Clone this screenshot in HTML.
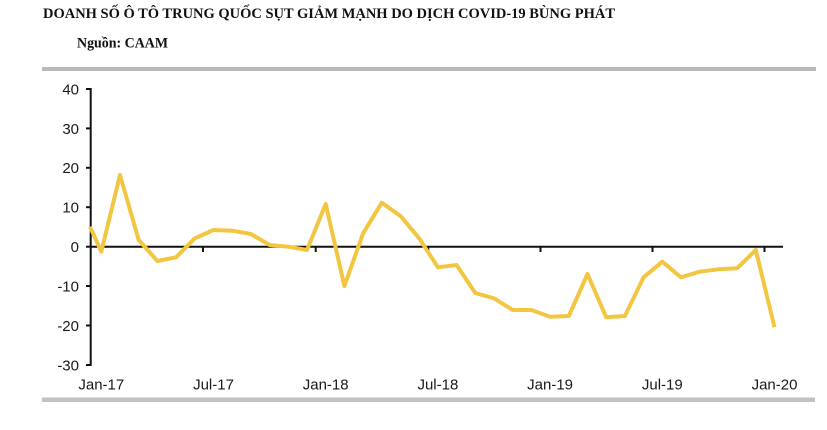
<!DOCTYPE html>
<html>
<head>
<meta charset="utf-8">
<style>
  html, body { margin: 0; padding: 0; background: #ffffff; }
  body { width: 827px; height: 430px; overflow: hidden; }
  svg { display: block; }
</style>
</head>
<body>
<svg width="827" height="430" viewBox="0 0 827 430" xmlns="http://www.w3.org/2000/svg">
  <rect x="0" y="0" width="827" height="430" fill="#ffffff"/>
  <!-- Title -->
  <text x="43" y="17.8" font-family="'Liberation Serif', serif" font-weight="bold" font-size="14.5" fill="#111" textLength="572" lengthAdjust="spacingAndGlyphs">DOANH SỐ Ô TÔ TRUNG QUỐC SỤT GIẢM MẠNH DO DỊCH COVID-19 BÙNG PHÁT</text>
  <text x="77" y="47.6" font-family="'Liberation Serif', serif" font-weight="bold" font-size="14.5" fill="#111" textLength="91" lengthAdjust="spacingAndGlyphs">Nguồn: CAAM</text>

  <!-- top and bottom gray bars -->
  <rect x="42" y="67" width="774" height="4" fill="#b9b9b9"/>
  <rect x="42" y="397.5" width="773" height="4.5" fill="#c2c2c2"/>

  <!-- Y axis -->
  <line x1="90.7" y1="88" x2="90.7" y2="366" stroke="#111" stroke-width="2"/>
  <g stroke="#111" stroke-width="2">
    <line x1="86" y1="89" x2="91" y2="89"/>
    <line x1="86" y1="128.4" x2="91" y2="128.4"/>
    <line x1="86" y1="167.8" x2="91" y2="167.8"/>
    <line x1="86" y1="207.2" x2="91" y2="207.2"/>
    <line x1="86" y1="246.7" x2="91" y2="246.7"/>
    <line x1="86" y1="286" x2="91" y2="286"/>
    <line x1="86" y1="325.5" x2="91" y2="325.5"/>
    <line x1="86" y1="365" x2="91" y2="365"/>
  </g>
  <g font-family="'Liberation Sans', Arial, sans-serif" font-size="15" fill="#1a1a1a" text-anchor="end">
    <text x="79" y="94.4">40</text>
    <text x="79" y="133.8">30</text>
    <text x="79" y="173.2">20</text>
    <text x="79" y="212.6">10</text>
    <text x="79" y="252.1">0</text>
    <text x="79" y="291.4">-10</text>
    <text x="79" y="330.9">-20</text>
    <text x="79" y="370.4">-30</text>
  </g>

  <!-- X axis -->
  <line x1="90" y1="246.7" x2="783" y2="246.7" stroke="#111" stroke-width="2"/>
  <g stroke="#111" stroke-width="2">
    <line x1="203" y1="246.7" x2="203" y2="252"/>
    <line x1="315.7" y1="246.7" x2="315.7" y2="252"/>
    <line x1="428.3" y1="246.7" x2="428.3" y2="252"/>
    <line x1="540.5" y1="246.7" x2="540.5" y2="252"/>
    <line x1="652.5" y1="246.7" x2="652.5" y2="252"/>
    <line x1="764.5" y1="246.7" x2="764.5" y2="252"/>
  </g>
  <g font-family="'Liberation Sans', Arial, sans-serif" font-size="15" fill="#1a1a1a" text-anchor="middle">
    <text x="101.3" y="389.5">Jan-17</text>
    <text x="213.5" y="389.5">Jul-17</text>
    <text x="325.7" y="389.5">Jan-18</text>
    <text x="437.9" y="389.5">Jul-18</text>
    <text x="550.1" y="389.5">Jan-19</text>
    <text x="662.3" y="389.5">Jul-19</text>
    <text x="774.5" y="389.5">Jan-20</text>
  </g>

  <!-- Series -->
  <polyline fill="none" stroke="#f3c641" stroke-width="4" stroke-linejoin="round" stroke-linecap="butt"
    points="90,226.7 101.3,251.7 120,175 138.7,240 157.4,261 176.1,257.3 194.8,238.3 213.5,230 232.2,230.7 250.9,234 269.6,245 288.3,246.7 307,250 325.7,204 344.4,286 363.1,233.3 381.8,202.7 400.5,216 419.2,238.3 437.9,267.3 456.6,265 475.3,293 494,298.3 512.7,310 531.4,310 550.1,316.7 568.8,316 587.5,274 606.2,317.3 624.9,316 643.6,277.3 662.3,261.7 681,277.3 699.7,271.7 718.4,269.3 737.1,268.3 755.8,250 774.5,327.3"/>
</svg>
</body>
</html>
